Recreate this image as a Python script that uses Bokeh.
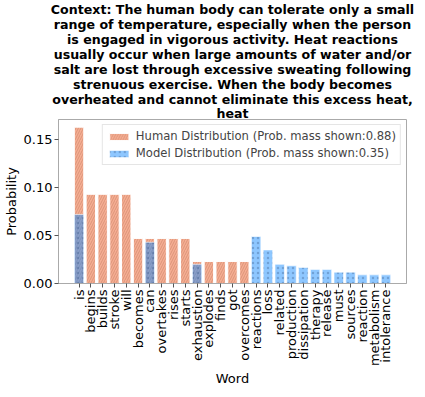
import numpy as np
from bokeh.plotting import figure
from bokeh.models import ColumnDataSource, FixedTicker, NumeralTickFormatter, Title, Range1d
from bokeh.embed import file_html
from bokeh.resources import INLINE

words = ["is", "begins", "builds", "stroke", "will", "becomes", "can", "overtakes", "rises",
         "starts", "exhaustion", "explodes", "finds", "got", "overcomes", "reactions", "loss",
         "related", "production", "dissipation", "therapy", "release", "must", "sources",
         "reaction", "metabolism", "intolerance"]
human = [0.163, 0.093, 0.093, 0.093, 0.093, 0.047, 0.047, 0.047, 0.047, 0.047,
         0.023, 0.023, 0.023, 0.023, 0.023, 0, 0, 0, 0, 0, 0, 0, 0, 0, 0, 0, 0]
model = [0.072, 0, 0, 0, 0, 0, 0.043, 0, 0, 0, 0.020, 0, 0, 0, 0, 0.049, 0.035, 0.020,
         0.0185, 0.0167, 0.0147, 0.0147, 0.0118, 0.0118, 0.009, 0.009, 0.009]
y_ticks = [0.0, 0.05, 0.10, 0.15]
y_max = 0.171
legend_labels = ["Human Distribution (Prob. mass shown:0.88)",
                 "Model Distribution (Prob. mass shown:0.35)"]
title_lines = ["Context: The human body can tolerate only a small",
               "range of temperature, especially when the person",
               "is engaged in vigorous activity. Heat reactions",
               "usually occur when large amounts of water and/or",
               "salt are lost through excessive sweating following",
               "strenuous exercise. When the body becomes",
               "overheated and cannot eliminate this excess heat,",
               "heat"]

FONT = "DejaVu Sans"
xpos = list(range(len(words)))
src = ColumnDataSource(dict(x=xpos, human=human, model=model))

p = figure(x_range=Range1d(-1.74, len(words) - 1 + 1.74),
           y_range=Range1d(0, y_max), width=417, height=389, title=None,
           output_backend="svg", toolbar_location=None,
           min_border_left=0, min_border_right=11, min_border_top=0, min_border_bottom=0)

for i, line in enumerate(reversed(title_lines)):
    p.add_layout(Title(text=line, align="center", text_font=FONT, text_font_size="12.6px",
                       text_font_style="bold", text_color="black",
                       standoff=-3 if i == 0 else -2),
                 "above")

p.vbar(x="x", top="human", width=0.8, source=src, fill_color="#F6AE93", fill_alpha=1.0,
       hatch_pattern="/", hatch_color="#C98468", hatch_alpha=0.6, hatch_scale=5, hatch_weight=1,
       line_color="white", line_width=1, legend_label=legend_labels[0])
p.vbar(x="x", top="model", width=0.8, source=src, fill_color="#1E90FF", fill_alpha=0.5,
       hatch_pattern=".", hatch_color="#3A5A8A", hatch_alpha=0.35, hatch_scale=5, hatch_weight=1,
       line_color="white", line_alpha=0.6, line_width=1, legend_label=legend_labels[1])

p.xgrid.grid_line_color = None
p.ygrid.grid_line_color = None
p.outline_line_color = "#aaaaaa"

p.yaxis.ticker = FixedTicker(ticks=y_ticks)
p.yaxis.formatter = NumeralTickFormatter(format="0.00")
p.xaxis.ticker = FixedTicker(ticks=xpos)
p.xaxis.major_label_overrides = {i: w for i, w in zip(xpos, words)}
p.xaxis.major_label_orientation = np.pi / 2
for ax in (p.xaxis, p.yaxis):
    ax.axis_line_color = "#aaaaaa"
    ax.major_tick_line_color = "#555555"
    ax.minor_tick_line_color = None
    ax.major_tick_out = 4
    ax.major_tick_in = 0
    ax.major_label_text_font = FONT
    ax.major_label_text_font_size = "13px"
    ax.major_label_text_color = "black"
    ax.axis_label_text_font = FONT
    ax.axis_label_text_font_size = "13px"
    ax.axis_label_text_font_style = "normal"
    ax.axis_label_text_color = "black"
    ax.major_label_standoff = 2
    ax.axis_label_standoff = 2
p.xaxis.axis_label = "Word"
p.yaxis.axis_label = "Probability"

p.legend.location = "top_right"
p.legend.label_text_font = FONT
p.legend.label_text_font_size = "11.6px"
p.legend.glyph_width = 24
p.legend.glyph_height = 9
p.legend.spacing = 3
p.legend.padding = 4
p.legend.margin = 5
p.legend.border_line_color = "#cccccc"
p.legend.background_fill_alpha = 0.8
p.legend.label_height = 14

open("out.html", "w").write(file_html(p, INLINE))
